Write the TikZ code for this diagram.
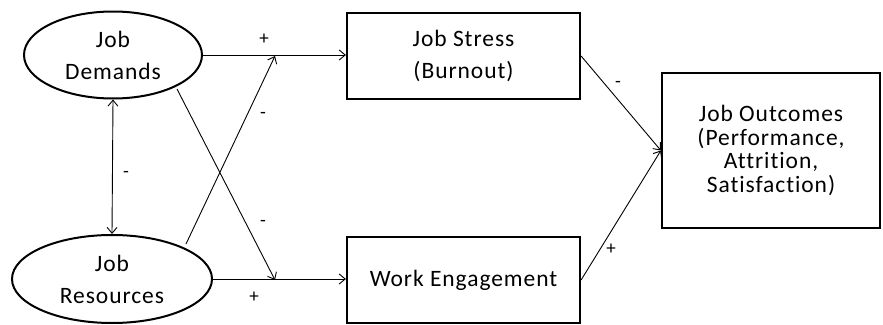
\documentclass[tikz,border=0pt]{standalone}
\usepackage{fontspec}
\setmainfont{Carlito}[LetterSpace=4,Ligatures={NoCommon}]
\usetikzlibrary{shapes.geometric,arrows.meta}
\begin{document}
\begin{tikzpicture}[x=1pt,y=-1pt,
  every node/.style={font=\fontsize{23.5}{32}\selectfont, text=black},
  latent/.style={draw, ellipse, line width=2pt, inner sep=0pt, align=center},
  boxnode/.style={draw, rectangle, line width=2.2pt, inner sep=0pt, align=center},
  conn/.style={line width=0.9pt, -{Straight Barb[length=6pt,width=10pt]}},
  sign/.style={inner sep=0pt, font=\fontsize{19}{20}\selectfont}]
\useasboundingbox (0,0) rectangle (883,324);
\node[latent, minimum width=178pt, minimum height=87pt] (dem) at (113,55) {Job\\Demands};
\node[latent, minimum width=200pt, minimum height=88pt] (res) at (112,279) {Job\\Resources};
\node[boxnode, minimum width=233pt, minimum height=86pt] (stress) at (463.5,56) {Job Stress\\(Burnout)};
\node[boxnode, minimum width=233pt, minimum height=86pt] (work) at (463.5,280) {Work Engagement};
\node[boxnode, minimum width=218pt, minimum height=155pt, font=\fontsize{23.5}{23.5}\selectfont] (out) at (771,150.5) {Job Outcomes\\(Performance,\\Attrition,\\Satisfaction)};
\coordinate (c1) at (275,56);
\coordinate (c2) at (275,280);
\coordinate (dlow) at (177,89);
\coordinate (rup) at (186,244);
\draw[conn] (dem.east) -- (dem.east -| stress.west);
\draw[conn] (res.east) -- (res.east -| work.west);
\draw[conn, {Straight Barb[length=6pt,width=10pt]}-{Straight Barb[length=6pt,width=10pt]}] (dem.south) -- (res.north);
\draw[conn] (dlow) -- (c2);
\draw[conn] (rup) -- (c1);
\draw[conn] (stress.east) -- (out.west);
\draw[conn] (work.east) -- (out.west);
\node[sign] (p1) at (264,39) {+};
\node[sign] (p2) at (254,297) {+};
\node[sign] (m1) at (126,174) {-};
\node[sign] (m2) at (263,115) {-};
\node[sign] (m3) at (263,223) {-};
\node[sign] (m4) at (618,84) {-};
\node[sign] (p3) at (611,249) {+};
\end{tikzpicture}
\end{document}
